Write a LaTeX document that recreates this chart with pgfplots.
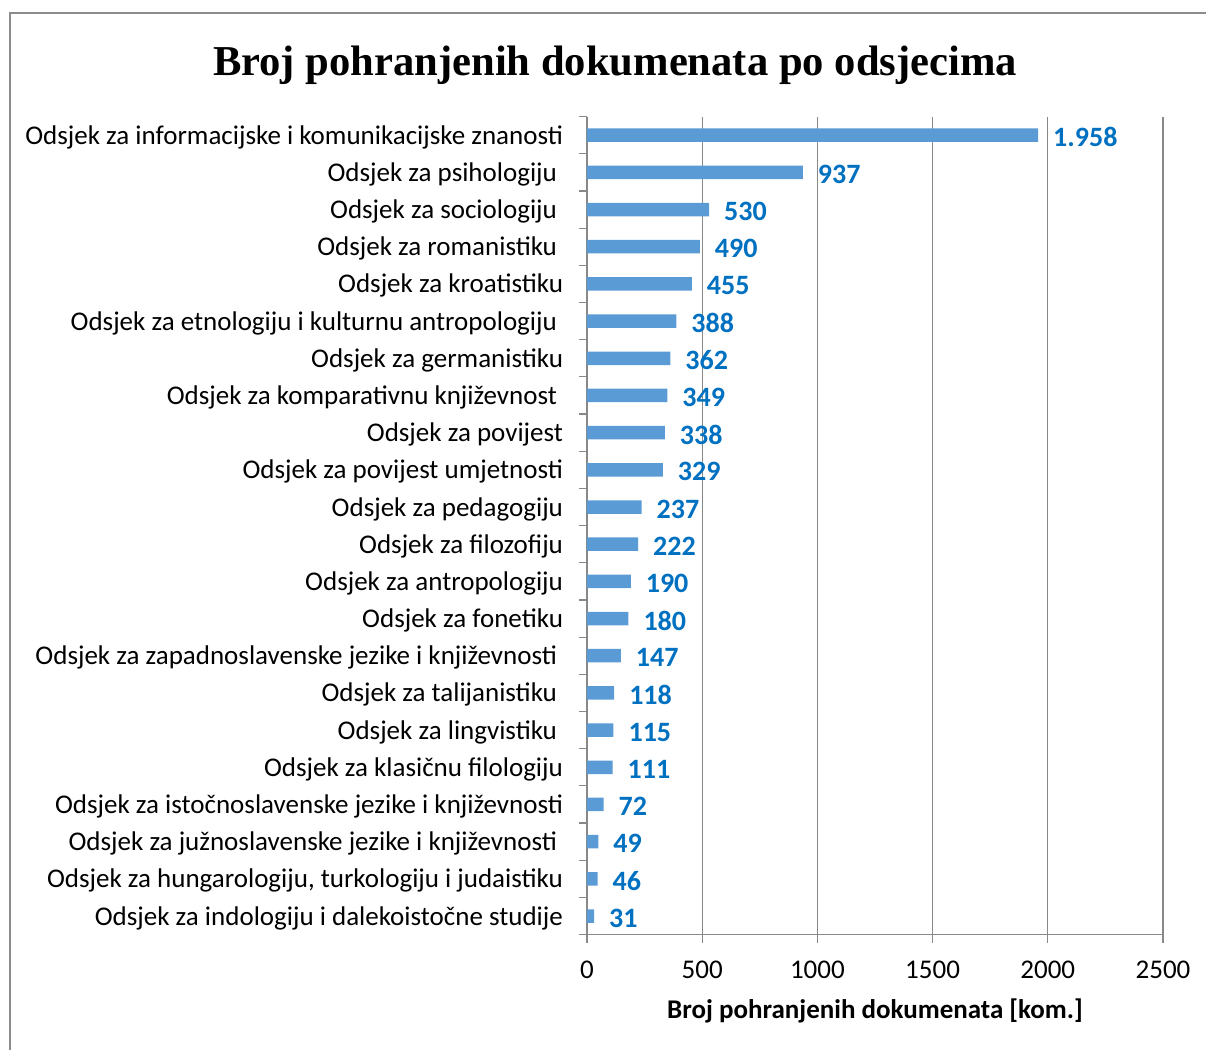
\documentclass[border=0pt]{standalone}
\usepackage{pgfplots}
\usepackage{pgfplotstable}
\pgfplotsset{compat=1.18}
\usepackage{fontspec}
\setmainfont{Carlito}
\newfontfamily\titlefont{Liberation Serif}
\definecolor{barblue}{HTML}{5B9BD5}
\definecolor{lblblue}{HTML}{0070C0}
\definecolor{gridgray}{HTML}{888888}
\definecolor{framegray}{HTML}{8C8C8C}

\pgfplotstableread{
y x lbl
21 1958 1.958
20 937 937
19 530 530
18 490 490
17 455 455
16 388 388
15 362 362
14 349 349
13 338 338
12 329 329
11 237 237
10 222 222
9 190 190
8 180 180
7 147 147
6 118 118
5 115 115
4 111 111
3 72 72
2 49 49
1 46 46
0 31 31
}\datatable

\newcommand{\ts}{\kern3pt}
\begin{document}
\begin{tikzpicture}[x=1pt,y=1pt]
\useasboundingbox (0,0) rectangle (603,525);
\draw[framegray, line width=0.9pt] (4.8,-10) -- (4.8,518.5) -- (620,518.5);
\node[font=\titlefont\bfseries\fontsize{21.3}{26}\selectfont, anchor=base] at (307.5,487) {Broj pohranjenih dokumenata po odsjecima};
\begin{axis}[
  at={(293.5pt,57.7pt)}, anchor=south west,
  scale only axis, width=288pt, height=409pt,
  xbar, bar width=6.75pt,
  xmin=0, xmax=2500, ymin=-0.5, ymax=21.5,
  xtick={0,500,...,2500},
  ytick={0,...,21},
  minor ytick={-0.5,0.5,...,21.5},
  yticklabels={
    Odsjek za indologiju i dalekoistočne studije,
    Odsjek za hungarologiju{,} turkologiju i judaistiku,
    Odsjek za južnoslavenske jezike i književnosti\ts,
    Odsjek za istočnoslavenske jezike i književnosti,
    Odsjek za klasičnu filologiju,
    Odsjek za lingvistiku\ts,
    Odsjek za talijanistiku\ts,
    Odsjek za zapadnoslavenske jezike i književnosti\ts,
    Odsjek za fonetiku,
    Odsjek za antropologiju,
    Odsjek za filozofiju,
    Odsjek za pedagogiju,
    Odsjek za povijest umjetnosti,
    Odsjek za povijest,
    Odsjek za komparativnu književnost\ts,
    Odsjek za germanistiku,
    Odsjek za etnologiju i kulturnu antropologiju\ts,
    Odsjek za kroatistiku,
    Odsjek za romanistiku\ts,
    Odsjek za sociologiju\ts,
    Odsjek za psihologiju\ts,
    Odsjek za informacijske i komunikacijske znanosti},
  axis x line*=bottom, axis y line*=left,
  axis line style={draw=gridgray, line width=0.6pt},
  xmajorgrids, grid style={draw=gridgray, line width=0.6pt},
  tick align=outside,
  major tick length=4pt, minor tick length=4pt,
  major y tick style={draw=none},
  minor y tick style={draw=gridgray, line width=0.6pt},
  major x tick style={draw=gridgray, line width=0.6pt},
  /pgf/number format/assume math mode=true,
  /pgf/number format/1000 sep={},
  tick label style={font=\fontsize{13.5}{15}\selectfont, text=black},
  yticklabel style={anchor=east, xshift=-4.5pt, yshift=-1pt},
  xticklabel style={anchor=north, yshift=-5.5pt},
  xlabel={Broj pohranjenih dokumenata [kom.]},
  xlabel style={font=\bfseries\fontsize{13.5}{15}\selectfont, at={(axis description cs:0.5,0)}, anchor=center, yshift=-38pt},
  clip=false,
]
\addplot[fill=barblue, draw=none,
  nodes near coords, point meta=explicit symbolic,
  nodes near coords style={font=\bfseries\fontsize{14}{16}\selectfont, text=lblblue, anchor=west, xshift=4pt, yshift=-1pt}]
  table[x=x, y=y, meta=lbl] {\datatable};
\end{axis}
\end{tikzpicture}
\end{document}
